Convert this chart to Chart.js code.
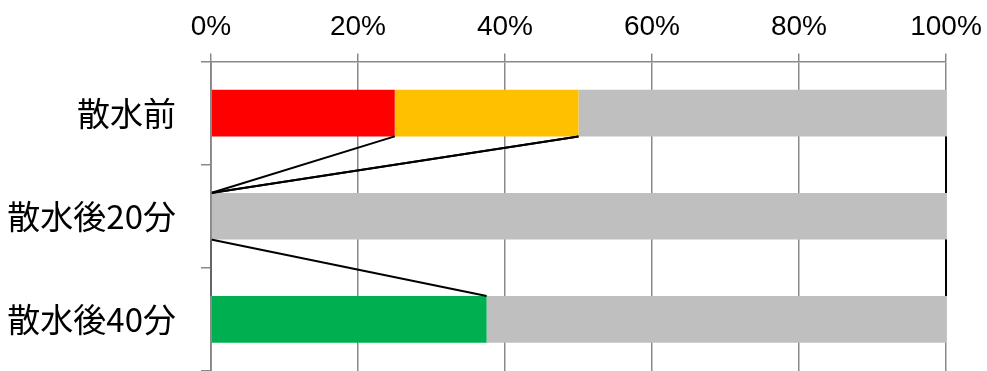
<!DOCTYPE html>
<html>
<head>
<meta charset="utf-8">
<script src="https://cdn.jsdelivr.net/npm/chart.js@4"></script>
<style>
  html, body { margin: 0; padding: 0; background: #fff; }
  #wrap { width: 987px; height: 371px; position: relative; }
</style>
</head>
<body>
<div id="wrap"><canvas id="chart"></canvas></div>
<script>
const categories = ['散水前', '散水後20分', '散水後40分'];
const redValues = [25, 0, 0];
const orangeValues = [25, 0, 0];
const greenValues = [0, 0, 37.5];
const grayValues = [50, 100, 62.5];
const xTickValues = [0, 20, 40, 60, 80, 100];

const axisGray = '#898989';

// Excel style series lines between the stacked segments
const seriesLines = {
    id: 'seriesLines',
    afterDatasetsDraw(chart) {
        const ctx = chart.ctx;
        const xs = chart.scales.x;
        const area = chart.chartArea;
        const sets = chart.data.datasets;
        ctx.save();
        ctx.strokeStyle = '#000';
        ctx.lineWidth = 2;
        for (let d = 0; d < sets.length; d++) {
            const meta = chart.getDatasetMeta(d);
            const cum = categories.map((c, i) => {
                let s = 0;
                for (let k = 0; k <= d; k++) s += sets[k].data[i];
                return s;
            });
            for (let i = 0; i < categories.length - 1; i++) {
                const a = meta.data[i];
                const b = meta.data[i + 1];
                ctx.beginPath();
                ctx.moveTo(xs.getPixelForValue(cum[i]), a.y + a.height / 2);
                ctx.lineTo(xs.getPixelForValue(cum[i + 1]), b.y - b.height / 2);
                ctx.stroke();
            }
        }
        // value axis line stays on top
        ctx.strokeStyle = axisGray;
        ctx.lineWidth = 1.5;
        ctx.beginPath();
        ctx.moveTo(area.left, area.top);
        ctx.lineTo(area.left, area.bottom);
        ctx.stroke();
        ctx.restore();
    }
};

const noPad = (scale) => {
    scale.paddingLeft = 0;
    scale.paddingRight = 0;
    scale.paddingTop = 0;
    scale.paddingBottom = 0;
};

new Chart(document.getElementById('chart'), {
    type: 'bar',
    data: {
        labels: categories,
        datasets: [
            { label: 'red', data: redValues, backgroundColor: '#FF0000' },
            { label: 'orange', data: orangeValues, backgroundColor: '#FFC000' },
            { label: 'green', data: greenValues, backgroundColor: '#00B050' },
            { label: 'gray', data: grayValues, backgroundColor: '#BFBFBF' }
        ]
    },
    options: {
        indexAxis: 'y',
        responsive: true,
        maintainAspectRatio: false,
        animation: false,
        layout: { padding: { left: 0, right: 41, top: 0, bottom: -2.5 } },
        datasets: { bar: { categoryPercentage: 1, barPercentage: 0.452 } },
        plugins: {
            legend: { display: false },
            tooltip: { enabled: false }
        },
        scales: {
            x: {
                position: 'top',
                stacked: true,
                min: 0,
                max: 100,
                afterBuildTicks: (scale) => { scale.ticks = xTickValues.map(v => ({ value: v })); },
                afterFit: (scale) => { scale.height = 61.5; noPad(scale); },
                grid: { color: axisGray, lineWidth: 1.5, tickLength: 8 },
                border: { color: axisGray, width: 1.5 },
                ticks: {
                    color: '#000',
                    padding: 9,
                    maxRotation: 0,
                    font: { family: "'Liberation Sans', Arial, sans-serif", size: 28 },
                    callback: (v) => v + '%'
                }
            },
            y: {
                stacked: true,
                afterFit: (scale) => { scale.width = 211; noPad(scale); },
                grid: { offset: true, drawOnChartArea: false, color: axisGray, lineWidth: 1.5, tickLength: 10 },
                border: { color: axisGray, width: 1.5 },
                ticks: {
                    color: '#000',
                    padding: 25,
                    font: { family: "'Noto Sans CJK JP', sans-serif", size: 33 }
                }
            }
        }
    },
    plugins: [seriesLines]
});
</script>
</body>
</html>
